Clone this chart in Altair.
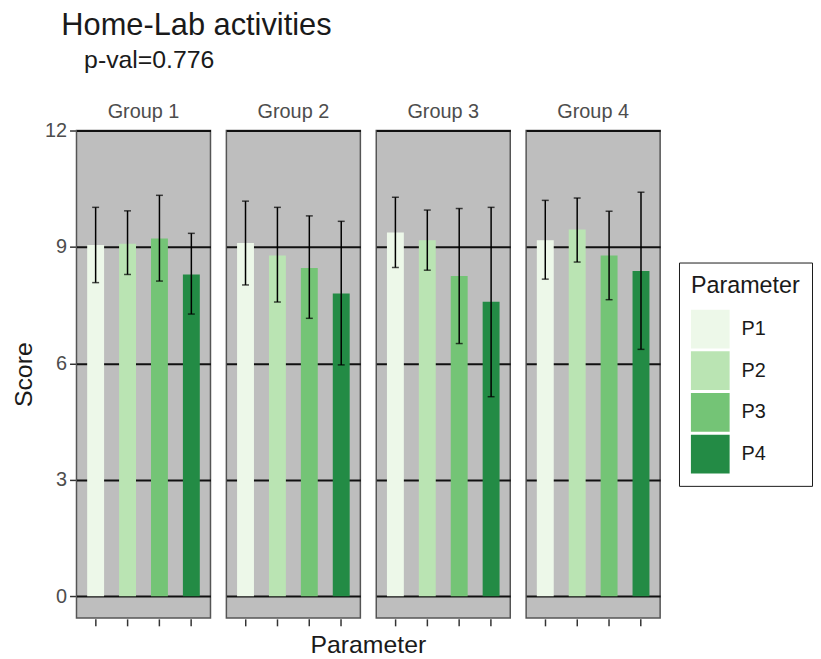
import altair as alt
import pandas as pd

groups = ["Group 1", "Group 2", "Group 3", "Group 4"]
params = ["P1", "P2", "P3", "P4"]
means = [
    [9.05, 9.08, 9.22, 8.29],
    [9.10, 8.78, 8.46, 7.80],
    [9.37, 9.17, 8.25, 7.59],
    [9.17, 9.45, 8.78, 8.38],
]
upper = [
    [10.02, 9.93, 10.33, 9.35],
    [10.18, 10.02, 9.80, 9.66],
    [10.28, 9.95, 9.99, 10.02],
    [10.20, 10.26, 9.92, 10.41],
]
lower = [
    [8.08, 8.29, 8.12, 7.27],
    [8.02, 7.58, 7.16, 5.96],
    [8.47, 8.40, 6.51, 5.14],
    [8.17, 8.61, 7.64, 6.36],
]
colors = ["#EDF8E9", "#BAE4B3", "#74C476", "#238B45"]

rows = []
for gi, g in enumerate(groups):
    for pi, p in enumerate(params):
        rows.append({"Group": g, "Parameter": p, "Score": means[gi][pi],
                     "hi": upper[gi][pi], "lo": lower[gi][pi]})
df = pd.DataFrame(rows)

FONT = "Liberation Sans"

x = alt.X("Parameter:N", title=None,
          scale=alt.Scale(paddingInner=0.47, paddingOuter=0.335),
          axis=alt.Axis(labels=False, ticks=True, tickSize=7, tickWidth=1.5,
                        tickColor="#333333", domain=False, grid=False))
yscale = alt.Scale(domain=[-0.56, 12], nice=False, zero=False)
y = alt.Y("Score:Q", title="Score", scale=yscale,
          axis=alt.Axis(values=[0, 3, 6, 9, 12], tickSize=6, tickWidth=1.5,
                        tickColor="#333333", labelColor="#4d4d4d", labelFontSize=20,
                        labelFont=FONT, labelPadding=3, titleFont=FONT,
                        titleFontSize=25, titleFontWeight="normal", titleColor="#1a1a1a",
                        titlePadding=8, domain=False, grid=True, gridColor="#111111",
                        gridWidth=2))

bars = alt.Chart().mark_bar().encode(
    x=x, y=y,
    y2=alt.datum(0),
    color=alt.Color("Parameter:N", scale=alt.Scale(domain=params, range=colors),
                    legend=alt.Legend(title="Parameter", orient="none",
                                      legendX=607, legendY=133,
                                      symbolType="square", symbolSize=1521,
                                      symbolStrokeWidth=0, symbolOpacity=1,
                                      labelFontSize=20, labelFont=FONT, labelColor="#1a1a1a",
                                      titleFontSize=23.5, titleFont=FONT, titleFontWeight="normal",
                                      titleColor="#1a1a1a", titlePadding=12,
                                      labelOffset=12, rowPadding=3,
                                      padding=12, strokeColor="#1a1a1a",
                                      fillColor="white")),
)
rule = alt.Chart().mark_rule(color="black", strokeWidth=1.5).encode(
    x=alt.X("Parameter:N"), y=alt.Y("lo:Q", scale=yscale), y2="hi:Q")
cap_hi = alt.Chart().mark_tick(color="black", thickness=1.5, size=7, orient="horizontal").encode(
    x=alt.X("Parameter:N"), y=alt.Y("hi:Q", scale=yscale))
cap_lo = alt.Chart().mark_tick(color="black", thickness=1.5, size=7, orient="horizontal").encode(
    x=alt.X("Parameter:N"), y=alt.Y("lo:Q", scale=yscale))

layered = alt.layer(bars, rule, cap_hi, cap_lo, data=df).properties(width=135, height=491)

chart = layered.facet(
    column=alt.Column("Group:N", sort=groups,
                      header=alt.Header(title="Parameter", titleOrient="bottom",
                                        labelOrient="top", labelFontSize=20,
                                        labelFont=FONT, labelColor="#4d4d4d",
                                        labelPadding=8,
                                        titleFontSize=25, titleFont=FONT,
                                        titleFontWeight="normal", titleColor="#1a1a1a",
                                        titlePadding=-4)),
    spacing=14,
).properties(
    title=alt.TitleParams(text="Home-Lab activities",
                          subtitle="\u200b\u00a0\u00a0\u00a0\u200ap-val=0.776",
                          anchor="start", frame="bounds", dx=50,
                          fontSize=31, subtitleFontSize=25, font=FONT, subtitleFont=FONT,
                          fontWeight="normal", color="#1a1a1a", subtitleColor="#1a1a1a",
                          subtitlePadding=6, offset=28),
    padding={"left": 3, "top": 0, "right": 0, "bottom": 0},
).configure(font=FONT).configure_view(
    fill="#BEBEBE", stroke="#555555", strokeWidth=1.5
)

chart.save("out.html", embed_options={"renderer": "svg", "actions": False})
